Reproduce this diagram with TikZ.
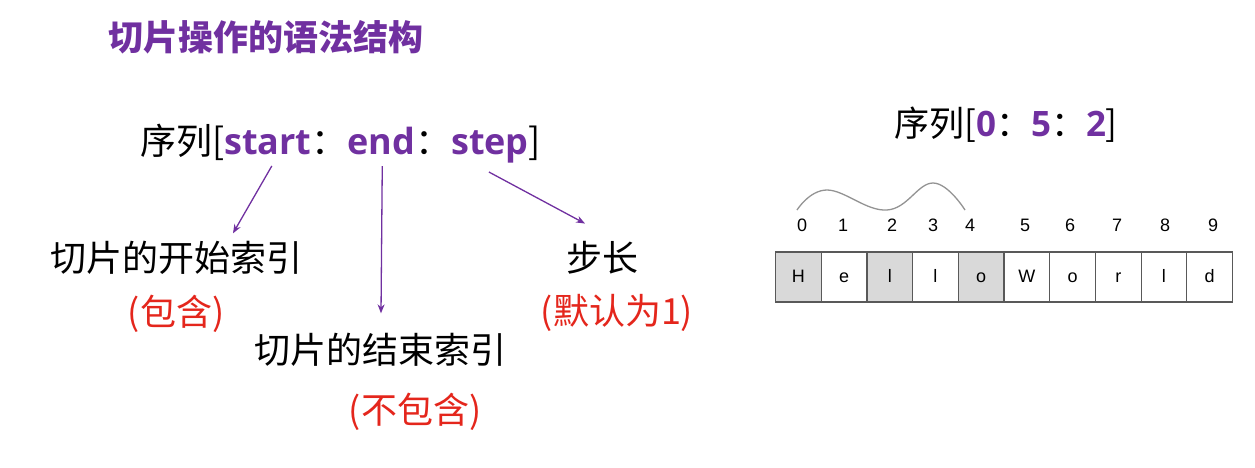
\documentclass[tikz,border=0pt]{standalone}
\usepackage{fontspec}
\setmainfont{Noto Sans CJK SC}
\newfontfamily\latin{Open Sans}
\newfontfamily\arial{Liberation Sans}
\usepackage{xcolor}
\usepackage{tikz}
\usetikzlibrary{positioning,arrows.meta}
\definecolor{slicepurple}{RGB}{112,48,160}
\definecolor{notered}{RGB}{228,38,28}
\newcommand\kw[1]{{\latin\bfseries\color{slicepurple}#1}}

\begin{document}
\begin{tikzpicture}[x=1pt,y=-1pt,
  txt/.style={inner sep=0pt,outer sep=0pt,font=\fontsize{36}{40}\selectfont},
  note/.style={txt,text=notered},
  pointer/.style={draw=slicepurple,line width=1.3pt,-{Stealth[length=9pt,width=7pt]}},
  cell/.style={draw=black!65,line width=1.2pt,minimum width=45.7pt,minimum height=50pt,inner sep=0pt,text height=13pt,text depth=3pt,font=\arial\fontsize{18}{20}\selectfont},
  graycell/.style={cell,fill=black!15},
  idx/.style={inner sep=0pt,font=\arial\fontsize{18}{20}\selectfont}]
\useasboundingbox (0,0) rectangle (1255,467);

\node[anchor=west,inner sep=0pt,text=slicepurple,font=\fontsize{35}{38}\selectfont\bfseries] (Title) at (108,37) {切片操作的语法结构};

% slice syntax
\node[txt,anchor=base west] (Seq) at (140,154) {序列[};
\node[txt,base right=0pt of Seq] (StartKw) {\kw{start}};
\node[txt,base right=0pt of StartKw] (ColonA) {：};
\node[txt,base right=0pt of ColonA] (EndKw) {\kw{end}};
\node[txt,base right=0pt of EndKw] (ColonB) {：};
\node[txt,base right=0pt of ColonB] (StepKw) {\kw{step}};
\node[txt,base right=0pt of StepKw] (Close) {]};

\node[txt] (StartIdx) at (176,258) {切片的开始索引};
\node[note,below=20pt of StartIdx] (StartNote) {(包含)};
\node[txt] (EndIdx) at (380,350) {切片的结束索引};
\node[note,below=26pt of EndIdx,xshift=35pt] (EndNote) {(不包含)};
\node[txt] (StepLen) at (602,258) {步长};
\node[note,below=20pt of StepLen,xshift=15pt] (StepNote) {(默认为1)};

\draw[pointer] ([xshift=4pt,yshift=-12pt]StartKw.base) -- ([xshift=57pt,yshift=8pt]StartIdx.north);
\draw[pointer] ([xshift=1pt,yshift=-12pt]EndKw.base) -- ([xshift=1pt,yshift=20pt]EndIdx.north);
\draw[pointer] ([xshift=-1pt,yshift=-18pt]StepKw.base) -- ([xshift=-17pt,yshift=18pt]StepLen.north);

% example
\node[txt,font=\fontsize{35}{38}\selectfont] (Example) at (1006,125) {序列[\kw{0}：\kw{5}：\kw{2}]};

\foreach \ch/\sty [count=\i from 0] in {H/graycell,e/cell,l/graycell,l/cell,o/graycell,W/cell,o/cell,r/cell,l/cell,d/cell}
  \node[\sty] (Cell\i) at (798.35+45.7*\i,277) {\ch};
\foreach \x [count=\i from 0] in {802,843,892,933,970,1025,1070,1117,1165,1213}
  \node[idx] (Idx\i) at (\x,225) {\i};

\draw[gray!85,line width=1.3pt] plot[smooth,tension=0.7] coordinates {(797,210) (827,190) (887,210) (933,183) (965,210)};
\end{tikzpicture}
\end{document}
